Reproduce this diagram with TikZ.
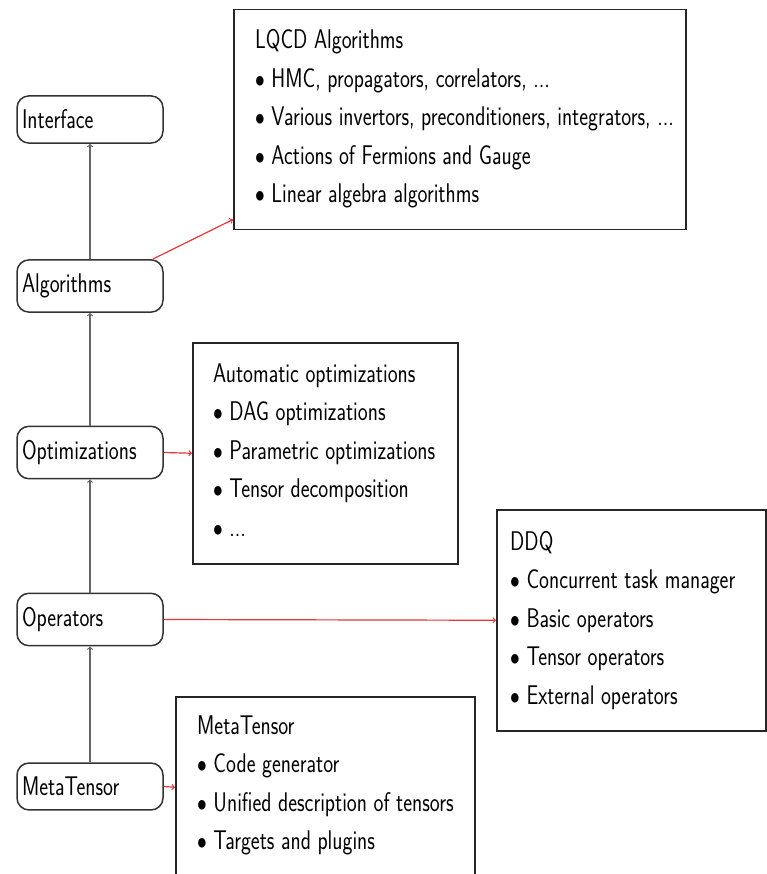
\documentclass[tikz,border=0pt]{standalone}
\usepackage{fontspec}
\usepackage{graphicx}
\newcommand{\sq}[1]{\scalebox{0.78}[1]{#1}}
\newcommand{\bu}{$\bullet$}
\definecolor{arrowred}{RGB}{228,55,55}
\begin{document}
\begin{tikzpicture}[x=1pt, y=-1pt, font=\sffamily\addfontfeatures{FakeBold=0.6}\fontsize{27}{38.5}\selectfont,
  layer/.style={draw=black!80, line width=1.5pt, rounded corners=12pt, inner xsep=5pt, inner ysep=14pt, fill=white},
  panel/.style={draw=black!85, line width=1.5pt, anchor=north west, inner sep=0pt},
  lines/.style={anchor=base west, inner sep=0pt},
  uparrow/.style={draw=black!60, line width=1.2pt, ->},
  redarrow/.style={draw=arrowred, line width=1.2pt, ->}]
\useasboundingbox (0,0) rectangle (767,874);
\clip (0,0) rectangle (767,874);
% layer boxes
\node[layer] (ifc) at (90,119.5) {\makebox[136pt][l]{\sq{Interface}}};
\node[layer] (alg) at (90,286) {\makebox[136pt][l]{\sq{Algorithms}}};
\node[layer] (opt) at (90,452.5) {\makebox[136pt][l]{\sq{Optimizations}}};
\node[layer] (ops) at (90,619.5) {\makebox[136pt][l]{\sq{Operators}}};
\node[layer] (mt) at (90,786.5) {\makebox[136pt][l]{\sq{MetaTensor}}};
% panels
\node[panel, minimum width=452pt, minimum height=220pt] (lqcd) at (233,9) {};
\node[lines] (lqcdtxt) at (255,49) {\sq{\begin{tabular}[t]{@{}l@{}}LQCD Algorithms\\
\bu{} HMC, propagators, correlators, ...\\
\bu{} Various invertors, preconditioners, integrators, ...\\
\bu{} Actions of Fermions and Gauge\\
\bu{} Linear algebra algorithms\end{tabular}}};
\node[panel, minimum width=265pt, minimum height=221pt] (auto) at (192,342) {};
\node[lines] (autotxt) at (213,382) {\sq{\begin{tabular}[t]{@{}l@{}}Automatic optimizations\\
\bu{} DAG optimizations\\
\bu{} Parametric optimizations\\
\bu{} Tensor decomposition\\
\bu{} ...\end{tabular}}};
\node[panel, minimum width=269pt, minimum height=221pt] (ddq) at (496,509) {};
\node[lines] (ddqtxt) at (510,550) {\sq{\begin{tabular}[t]{@{}l@{}}DDQ\\
\bu{} Concurrent task manager\\
\bu{} Basic operators\\
\bu{} Tensor operators\\
\bu{} External operators\end{tabular}}};
\node[panel, minimum width=299pt, minimum height=181pt] (mtbox) at (175,696) {};
\node[lines] (mttxt) at (197,734) {\sq{\begin{tabular}[t]{@{}l@{}}MetaTensor\\
\bu{} Code generator\\
\bu{} Unified description of tensors\\
\bu{} Targets and plugins\end{tabular}}};
% connectors
\draw[uparrow] (alg) -- (ifc);
\draw[uparrow] (opt) -- (alg);
\draw[uparrow] (ops) -- (opt);
\draw[uparrow] (mt) -- (ops);
\draw[redarrow] ([xshift=-11pt]alg.north east) -- ([yshift=11pt]lqcd.south west);
\draw[redarrow] (opt.east) -- (auto.west);
\draw[redarrow] (ops.east) -- (ddq.west);
\draw[redarrow] (mt.east) -- (mtbox.west);
\end{tikzpicture}
\end{document}
